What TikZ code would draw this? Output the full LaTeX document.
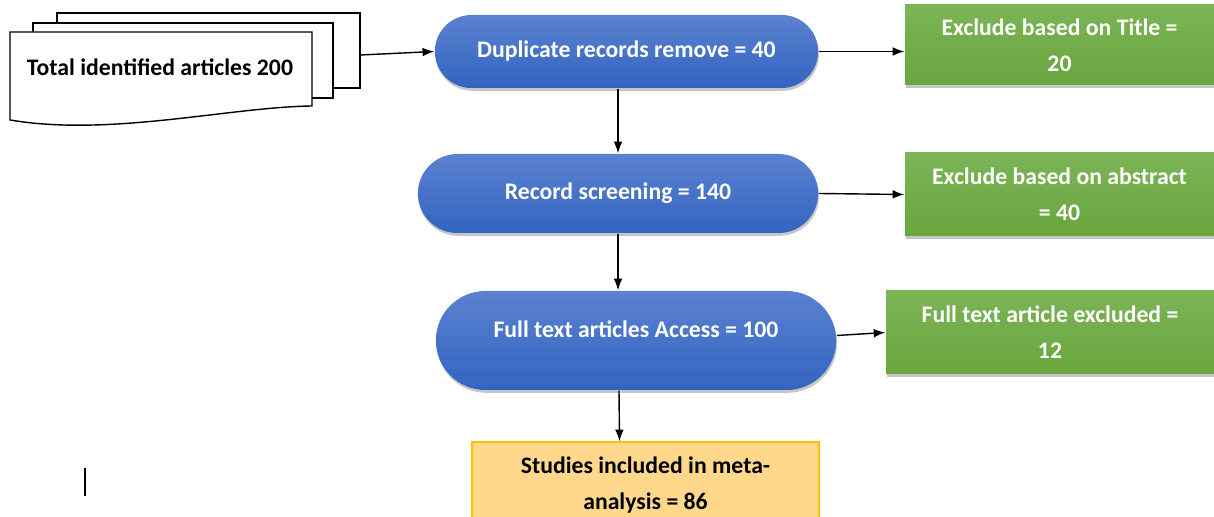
\documentclass[tikz,border=0pt]{standalone}
\usepackage{fontspec}
\setmainfont{Carlito}
\usetikzlibrary{arrows.meta,positioning,shapes.misc,shadows,calc}

\definecolor{bluetop}{RGB}{92,130,208}
\definecolor{bluebot}{RGB}{50,100,192}
\definecolor{greentop}{RGB}{124,180,86}
\definecolor{greenbot}{RGB}{104,166,62}
\definecolor{incfill}{RGB}{255,216,140}
\definecolor{incdraw}{RGB}{255,192,0}

\begin{document}
\begin{tikzpicture}[>=Latex, line width=0.8pt]
        \tikzset{stage/.style={rounded rectangle, top color=bluetop, bottom color=bluebot, text=white, font=\bfseries\fontsize{13.5}{20.5}\selectfont, minimum width=8.24cm, minimum height=1.58cm, drop shadow={shadow xshift=0.5pt, shadow yshift=-1.6pt, opacity=0.45}},
          excl/.style={rectangle, top color=greentop, bottom color=greenbot, text=white, align=center, font=\bfseries\fontsize{13.5}{20.5}\selectfont, minimum width=6.18cm, minimum height=1.66cm, text depth=-0.16cm, drop shadow={shadow xshift=0.5pt, shadow yshift=-1.6pt, opacity=0.45}},
          sheet/.style={draw, fill=white, minimum width=6.06cm, minimum height=1.5cm}}
        \useasboundingbox (0,0) rectangle (24.28,10.34);
        % stacked documents
        \node[sheet] (sheetc) at (4.17,9.33) {};
        \node[sheet, minimum width=6cm] (sheetb) at (3.66,9.13) {};
        \draw[fill=white] (0.2,9.7) -- (6.24,9.7) -- (6.24,8.22) .. controls (4.6,8.2) and (2.2,7.6) .. (0.2,7.94) -- cycle;
        \node[font=\bfseries\fontsize{13.5}{20.5}\selectfont] (total) at (3.2,9.0) {Total identified articles 200};
        \node[stage, minimum width=7.9cm, minimum height=1.46cm] (dup) at (12.53,9.31) {Duplicate records remove = 40};
        \node[stage] (screen) at (12.36,6.47) {Record screening = 140};
        \node[stage, minimum height=1.98cm, text depth=0.45cm] (full) at (12.72,3.53) {Full text articles Access = 100};
        \node[excl, minimum height=1.6cm] (extitle) at (21.19,9.44) {Exclude based on Title =\\20};
        \node[excl] (exabs) at (21.19,6.45) {Exclude based on abstract\\= 40};
        \node[excl, minimum width=6.56cm] (exfull) at (21.0,3.69) {Full text article excluded =\\12};
        \node[draw=incdraw, fill=incfill, align=center, font=\bfseries\fontsize{13.5}{20.5}\selectfont, minimum width=6.94cm, minimum height=1.72cm] (incl) at (12.91,0.64) {Studies included in meta-\\analysis = 86};
        \draw[->] ([yshift=-0.09cm]sheetc.east) -- (dup.west);
        \draw[->] (dup.east) -- (dup.east -| extitle.west);
        \draw[->] (screen.north |- dup.south) -- (screen.north);
        \draw[->] (screen.east) -- (exabs.west);
        \draw[->] (screen.south) -- (screen.south |- full.north);
        \draw[->] ([yshift=0.1cm]full.east) -- (exfull.west);
        \draw[->] ([xshift=-0.34cm]full.south) -- ([xshift=-0.52cm]incl.north);
        \draw (1.7,0.98) -- (1.7,0.42);
\end{tikzpicture}
\end{document}
